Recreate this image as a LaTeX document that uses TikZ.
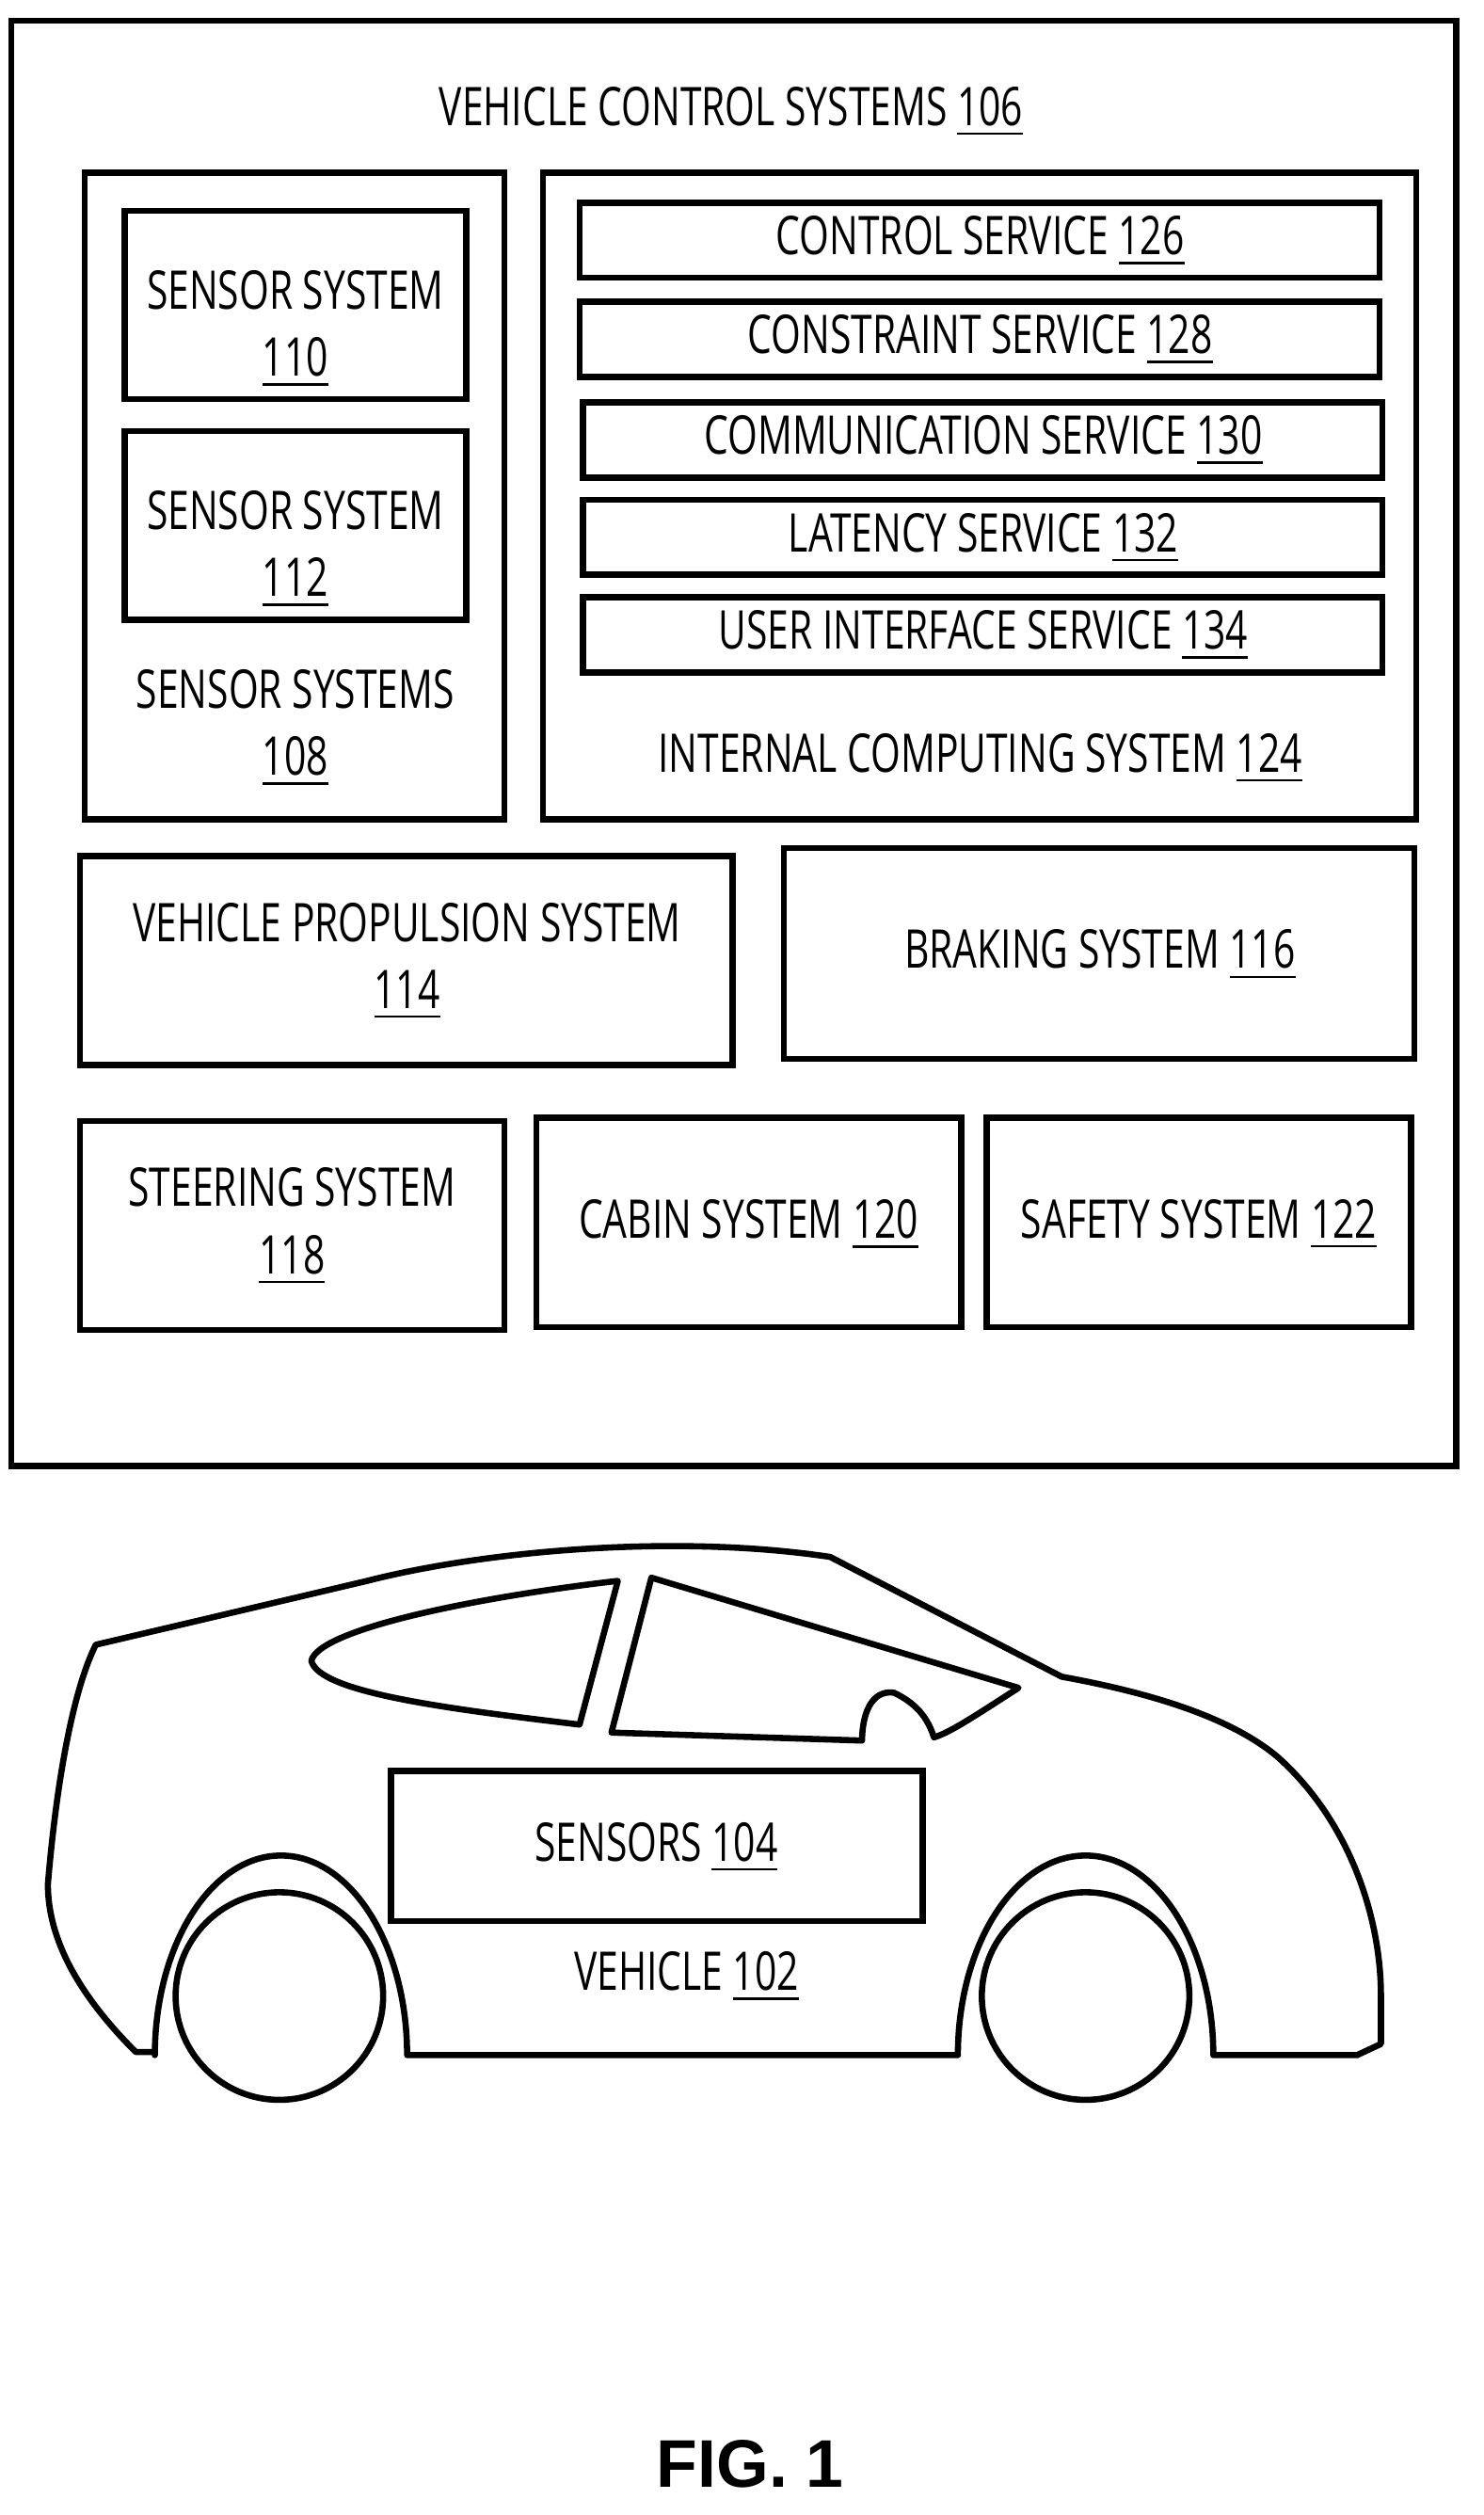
\documentclass[tikz,border=0pt]{standalone}
\usepackage{fontspec}
\setmainfont[FakeStretch=0.72]{Open Sans}
\newfontfamily\figfont{Liberation Sans}
\usetikzlibrary{positioning}

\begin{document}
\begin{tikzpicture}[
			x=0.01cm, y=-0.01cm,
			box/.style = {draw, line width=1.1pt},
			lbl/.style = {align=center, font=\fontsize{9.5}{12}\selectfont, inner sep=0pt}
		]
		\useasboundingbox (0,0) rectangle (929,1575);
		% Control systems.
		\draw[box] (7,13) rectangle (912,918);
		\node[lbl] (vcs) at (458,70) {VEHICLE CONTROL SYSTEMS \underline{106}};
		\draw[box] (53,108) rectangle (316,513);
		\draw[box] (78,132) rectangle (292,250);
		\node[lbl] (s110) at (185,206) {SENSOR SYSTEM\\\underline{110}};
		\draw[box] (78,270) rectangle (292,388);
		\node[lbl] (s112) at (185,344) {SENSOR SYSTEM\\\underline{112}};
		\node[lbl] (s108) at (185,456) {SENSOR SYSTEMS\\\underline{108}};
		% Internal computing.
		\draw[box] (340,108) rectangle (887,513);
		\draw[box] (363,127) rectangle (864,174);
		\node[lbl] (c126) at (614,151) {CONTROL SERVICE \underline{126}};
		\draw[box] (363,189) rectangle (864,236);
		\node[lbl] (c128) at (614,213) {CONSTRAINT SERVICE \underline{128}};
		\draw[box] (365,252) rectangle (866,299);
		\node[lbl] (c130) at (616,276) {COMMUNICATION SERVICE \underline{130}};
		\draw[box] (365,313) rectangle (866,360);
		\node[lbl] (c132) at (616,337) {LATENCY SERVICE \underline{132}};
		\draw[box] (365,374) rectangle (866,421);
		\node[lbl] (c134) at (616,398) {USER INTERFACE SERVICE \underline{134}};
		\node[lbl] (c124) at (614,475) {INTERNAL COMPUTING SYSTEM \underline{124}};
		% Lower rows.
		\draw[box] (50,536) rectangle (459,667);
		\node[lbl] (p114) at (255,602) {VEHICLE PROPULSION SYSTEM\\\underline{114}};
		\draw[box] (491,531) rectangle (886,663);
		\node[lbl] (b116) at (689,598) {BRAKING SYSTEM \underline{116}};
		\draw[box] (50,702) rectangle (316,833);
		\node[lbl] (s118) at (183,768) {STEERING SYSTEM\\\underline{118}};
		\draw[box] (336,700) rectangle (602,831);
		\node[lbl] (c120) at (469,767) {CABIN SYSTEM \underline{120}};
		\draw[box] (618,700) rectangle (884,831);
		\node[lbl] (s122) at (751,767) {SAFETY SYSTEM \underline{122}};
		% Vehicle.
		\draw[line width=1.1pt, line join=round]
			(97,1285) -- (85,1285) .. controls (50,1250) and (30,1215) .. (30,1180)
			.. controls (35,1120) and (45,1060) .. (60,1030)
			-- (230,990) .. controls (300,972) and (420,960) .. (520,975)
			-- (665,1050) .. controls (720,1060) and (770,1075) .. (800,1100)
			.. controls (845,1140) and (865,1200) .. (865,1250)
			-- (865,1280) -- (850,1287) -- (760,1287)
			arc[start angle=0, end angle=180, x radius=80, y radius=-125] -- (255,1287)
			arc[start angle=0, end angle=180, x radius=79, y radius=-125] -- cycle;
		\draw[line width=1.1pt] (175,1250) circle[radius=65];
		\draw[line width=1.1pt] (680,1250) circle[radius=65];
		\draw[line width=1.1pt, line join=round]
			(387,990) -- (363,1080) .. controls (280,1070) and (200,1060) .. (195,1040)
			.. controls (200,1020) and (300,1000) .. cycle;
		\draw[line width=1.1pt, line join=round]
			(408,988) -- (638,1057) .. controls (610,1075) and (595,1085) .. (585,1088)
			.. controls (580,1072) and (570,1065) .. (560,1060)
			.. controls (545,1058) and (540,1075) .. (540,1090)
			-- (383,1085) -- cycle;
		\draw[box] (245,1109) rectangle (578,1203);
		\node[lbl] (s104) at (411,1157) {SENSORS \underline{104}};
		\node[lbl] (v102) at (430,1238) {VEHICLE \underline{102}};
		\node[font=\figfont\bfseries\fontsize{12}{14}\selectfont] (fig) at (470,1543) {FIG. 1};
	\end{tikzpicture}
\end{document}
